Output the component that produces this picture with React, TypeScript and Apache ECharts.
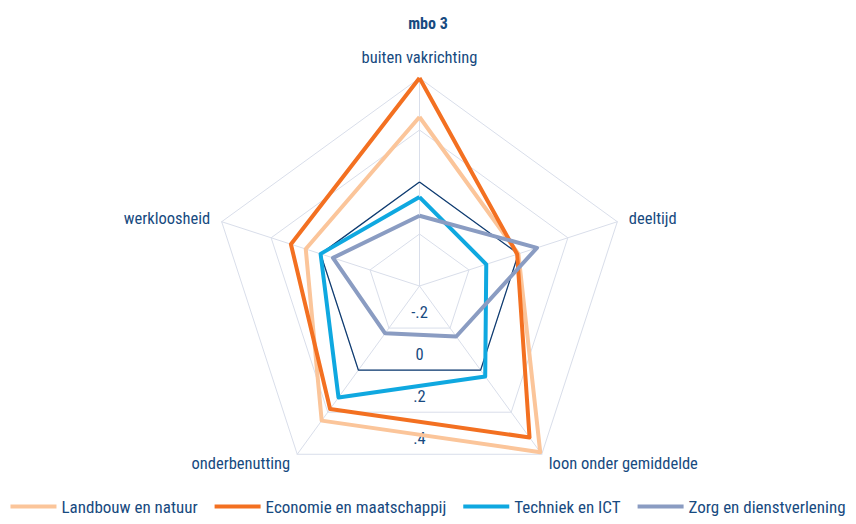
import React, { useEffect, useRef } from "react";
import * as echarts from "echarts";

const indicators = ["buiten vakrichting", "werkloosheid", "onderbenutting", "loon onder gemiddelde", "deeltijd"];
const seriesNames = ["Landbouw en natuur", "Economie en maatschappij", "Techniek en ICT", "Zorg en dienstverlening"];
const landbouw = [0.25, 0.06, 0.24, 0.39, 0.0];
const economie = [0.40, 0.12, 0.185, 0.32, -0.005];
const techniek = [-0.058, 0.0, 0.13, 0.03, -0.13];
const zorg = [-0.13, -0.05, -0.175, -0.16, 0.075];
const zeroLine = [0, 0, 0, 0, 0];
const colors = ["#fbc59a", "#f37021", "#0fa8e0", "#8a9cc2"];
const tickLabels: Record<string, string> = { "-0.2": "-.2", "0": "0", "0.2": ".2", "0.4": ".4" };

const FONT = "'Liberation Sans Narrow', 'Roboto Condensed', Roboto, sans-serif";
const NAVY = "#174a80";

export default function App() {
  const ref = useRef<HTMLDivElement>(null);
  useEffect(() => {
    if (!ref.current) return;
    const chart = echarts.init(ref.current, null, { renderer: "svg" });
    const values = [landbouw, economie, techniek, zorg];
    chart.setOption({
      animation: false,
      backgroundColor: "#ffffff",
      title: {
        text: "mbo 3",
        left: "center",
        top: 10,
        textStyle: { fontFamily: FONT, fontSize: 16, fontWeight: "bold", color: NAVY },
      },
      legend: {
        bottom: 4,
        left: "center",
        data: seriesNames,
        icon: "rect",
        itemWidth: 46,
        itemHeight: 4,
        itemGap: 17,
        textStyle: { fontFamily: FONT, fontSize: 17, color: NAVY },
      },
      radar: {
        center: [419.5, 286],
        radius: 208,
        shape: "polygon",
        splitNumber: 4,
        nameGap: 12,
        indicator: indicators.map((n) => ({ name: n, min: -0.4, max: 0.4 })),
        axisName: { fontFamily: FONT, fontSize: 16.5, color: NAVY },
        axisLine: { lineStyle: { color: "#d9deea", width: 1 } },
        splitLine: { lineStyle: { color: "#d9deea", width: 1 } },
        splitArea: { show: false },
        axisLabel: { show: false },
        axisTick: { show: false },
      },
      polar: { center: [419.5, 286], radius: 168 },
      angleAxis: { startAngle: 270, show: false, min: 0, max: 360 },
      radiusAxis: {
        min: -0.4,
        max: 0.4,
        interval: 0.2,
        axisLine: { show: false },
        axisTick: { show: false },
        splitLine: { show: false },
        axisLabel: {
          show: true,
          margin: 0,
          align: "center",
          verticalAlign: "bottom",
          padding: [0, 0, 7, 0],
          fontFamily: FONT,
          fontSize: 16.5,
          color: NAVY,
          formatter: (v: number) => tickLabels[String(Math.round(v * 10) / 10)] ?? "",
        },
      },
      series: [
        {
          type: "radar",
          name: "zero",
          silent: true,
          symbol: "none",
          lineStyle: { color: "#0e3b70", width: 1.3 },
          data: [{ value: zeroLine, name: "zero" }],
          z: 1,
        },
        ...seriesNames.map((name, i) => ({
          type: "radar",
          name,
          symbol: "none",
          color: colors[i],
          lineStyle: { color: colors[i], width: 4 },
          itemStyle: { color: colors[i] },
          data: [{ value: values[i], name }],
          z: 2 + i,
        })),
      ],
    });
    return () => chart.dispose();
  }, []);
  return <div ref={ref} style={{ position: "fixed", left: 0, top: 0, width: 856, height: 524 }} />;
}
